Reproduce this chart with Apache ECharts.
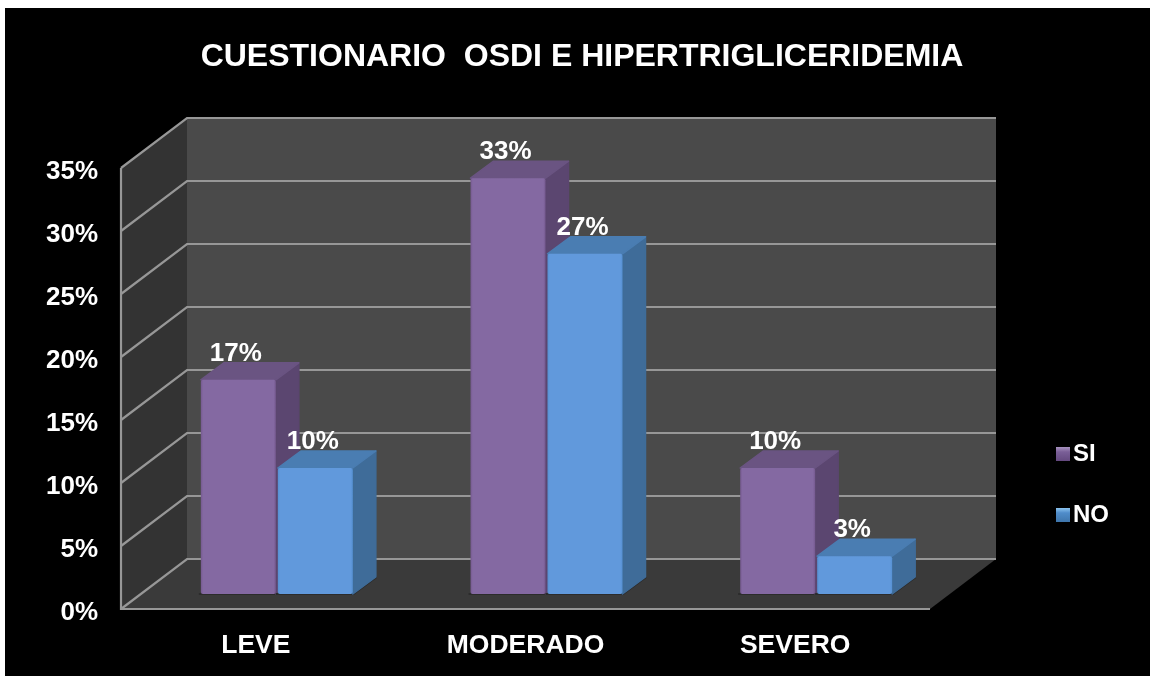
<!DOCTYPE html>
<html><head><meta charset="utf-8">
<style>
html,body{margin:0;padding:0;background:#fff;width:1150px;height:676px;overflow:hidden}
#bg{position:absolute;left:5px;top:8px;right:0;bottom:0;background:#000}
#c{position:absolute;left:0;top:0;width:1150px;height:676px;filter:blur(0.45px)}
</style>
<script src="https://cdn.jsdelivr.net/npm/echarts@6/dist/echarts.min.js"></script>
</head><body><div id="bg"></div><div id="c"></div>
<script>
const categories = ['LEVE', 'MODERADO', 'SEVERO'];
const seriesSI = [17, 33, 10];
const seriesNO = [10, 27, 3];
const yTicks = [0, 5, 10, 15, 20, 25, 30, 35];
const titleText = 'CUESTIONARIO  OSDI E HIPERTRIGLICERIDEMIA';

const FONT = '"Liberation Sans", Arial, sans-serif';
const WALL = {dx: 66, dy: -50};      // depth of the chart box
const PLANE = {dx: 21, dy: -15};     // plane of the bars' front faces
const BAR = {dx: 23, dy: -17, w: 75, gap: 1};

const chart = echarts.init(document.getElementById('c'), null, {renderer: 'canvas'});

function poly(points, fill, z2) {
  return {type: 'polygon', z2: z2 || 0, shape: {points}, style: {fill}};
}
function softPoly(points, fill, z2) {
  return {type: 'polygon', z2: z2 || 0, shape: {points},
          style: {fill, stroke: fill, lineWidth: 1.5, lineJoin: 'round'}};
}
function line(points, z2) {
  return {type: 'polyline', z2: z2 || 1, shape: {points},
          style: {fill: 'none', stroke: '#979797', lineWidth: 2.2}};
}

// Box: side wall, back wall, floor
function renderBox(params, api) {
  const lastCat = categories.length - 1;
  const bl = api.coord([0, 0]), tl = api.coord([0, yTicks[yTicks.length - 1]]);
  const half = api.size([1, 0])[0] / 2;
  const x0 = bl[0] - half, x1 = api.coord([lastCat, 0])[0] + half;
  const y0 = bl[1], y1 = tl[1], d = WALL;
  return {type: 'group', children: [
    poly([[x0, y0], [x0 + d.dx, y0 + d.dy], [x0 + d.dx, y1 + d.dy], [x0, y1]], '#333333'),
    poly([[x0 + d.dx, y0 + d.dy], [x1 + d.dx, y0 + d.dy], [x1 + d.dx, y1 + d.dy], [x0 + d.dx, y1 + d.dy]], '#4a4a4a'),
    poly([[x0, y0], [x1, y0], [x1 + d.dx, y0 + d.dy], [x0 + d.dx, y0 + d.dy]], '#3a3a3a')
  ]};
}

// One grid line per tick: along the side wall, then along the back wall
function renderGridLine(params, api) {
  const lastCat = categories.length - 1;
  const p = api.coord([0, api.value(0)]);
  const half = api.size([1, 0])[0] / 2;
  const x0 = p[0] - half, x1 = api.coord([lastCat, 0])[0] + half, y = p[1], d = WALL;
  return line([[x0, y], [x0 + d.dx, y + d.dy], [x1 + d.dx, y + d.dy]]);
}

// Front frame: left vertical and floor front edge
function renderFrame(params, api) {
  const lastCat = categories.length - 1;
  const bl = api.coord([0, 0]), tl = api.coord([0, yTicks[yTicks.length - 1]]);
  const half = api.size([1, 0])[0] / 2;
  const x0 = bl[0] - half, x1 = api.coord([lastCat, 0])[0] + half;
  return line([[x0, tl[1]], [x0, bl[1]], [x1, bl[1]]], 2);
}

function barRenderer(colors, side) {
  return function (params, api) {
    const cat = api.value(0), v = api.value(1);
    const base = api.coord([cat, 0]), top = api.coord([cat, v]);
    const cx = base[0] + PLANE.dx;
    const x0 = side < 0 ? cx - BAR.gap - BAR.w : cx + BAR.gap;
    const x1 = x0 + BAR.w;
    const yb = base[1] + PLANE.dy, yt = top[1] + PLANE.dy;
    const dx = BAR.dx, dy = BAR.dy;
    const frontFill = new echarts.graphic.LinearGradient(0, 0, 1, 0, [
      {offset: 0, color: colors.frontEdge},
      {offset: 0.03, color: colors.front},
      {offset: 0.97, color: colors.front},
      {offset: 1, color: colors.frontEdge}
    ]);
    return {type: 'group', children: [
      // soft contact shadow on the floor
      poly([[x0 - 2, yb + 1], [x1 + 1, yb + 1], [x1 + dx + 1, yb + dy + 1], [x1 + dx, yb + dy - 2], [x1, yb - 1], [x0 - 2, yb - 1]], '#2c2c2c', 0),
      softPoly([[x1, yt], [x1 + dx, yt + dy], [x1 + dx, yb + dy], [x1, yb]], colors.side, 1),
      softPoly([[x0, yt], [x0 + dx, yt + dy], [x1 + dx, yt + dy], [x1, yt]], colors.top, 1),
      {type: 'rect', z2: 2, shape: {x: x0, y: yt, width: BAR.w, height: yb - yt, r: 2}, style: {fill: frontFill}}
    ]};
  };
}

function labelRenderer(side) {
  return function (params, api) {
    const cat = api.value(0), v = api.value(1);
    const top = api.coord([cat, v]);
    const cx = top[0] + PLANE.dx + side * (BAR.w / 2 + BAR.gap) - 2.5;
    return {type: 'text', style: {
      x: cx, y: top[1] + PLANE.dy - 26, text: v + '%', fill: '#fff',
      font: 'bold 26px ' + FONT, align: 'center', verticalAlign: 'middle'
    }};
  };
}

const axisEnc = {x: 0, y: 1};
const data2 = arr => arr.map((v, i) => [i, v]);
const siColors = {front: '#8469a2', frontEdge: '#75598f', side: '#5b4670', top: '#6a5482'};
const noColors = {front: '#6199dc', frontEdge: '#5590d2', side: '#3f6c99', top: '#4a7db2'};
const iconFill = (a, b, c) => new echarts.graphic.LinearGradient(0, 0, 0, 1, [
  {offset: 0, color: a}, {offset: 0.35, color: b}, {offset: 1, color: c}
]);

chart.setOption({
  animation: false,
  backgroundColor: 'transparent',
  title: {
    text: titleText, left: 577, top: 36, textAlign: 'center',
    textStyle: {color: '#fff', fontFamily: FONT, fontWeight: 'bold', fontSize: 32}
  },
  legend: {
    data: ['SI', 'NO'], orient: 'vertical', left: 1051, top: 437, itemWidth: 14, itemHeight: 14,
    itemGap: 37, icon: 'rect',
    textStyle: {color: '#fff', fontFamily: FONT, fontWeight: 'bold', fontSize: 24, padding: [2, 0, 0, -2]}
  },
  grid: {left: 121, right: 220, top: 168, bottom: 67},
  xAxis: {
    type: 'category', data: categories,
    axisLine: {show: false}, axisTick: {show: false}, splitLine: {show: false},
    axisLabel: {color: '#fff', fontFamily: FONT, fontWeight: 'bold', fontSize: 26.5, margin: 23}
  },
  yAxis: {
    type: 'value', min: 0, max: 35, interval: 5,
    axisLine: {show: false}, axisTick: {show: false}, splitLine: {show: false},
    axisLabel: {margin: 23, formatter: v => '{t|' + v + '%}',
      rich: {t: {color: '#fff', fontFamily: FONT, fontWeight: 'bold', fontSize: 26, padding: [8, 0, 0, 0]}}}
  },
  tooltip: {show: false},
  series: [
    {type: 'custom', name: 'box', z: 1, silent: true, clip: false, renderItem: renderBox, data: [[0, 0]], encode: axisEnc},
    {type: 'custom', name: 'gridlines', z: 2, silent: true, clip: false, renderItem: renderGridLine,
     data: yTicks.map(t => [t]), encode: {y: 0}},
    {type: 'custom', name: 'frame', z: 3, silent: true, clip: false, renderItem: renderFrame, data: [[0, 0]], encode: axisEnc},
    {type: 'custom', name: 'SI', z: 4, clip: false, renderItem: barRenderer(siColors, -1), data: data2(seriesSI), encode: axisEnc,
     itemStyle: {color: iconFill('#a893c0', '#7a5f97', '#64497f')}},
    {type: 'custom', name: 'NO', z: 5, clip: false, renderItem: barRenderer(noColors, 1), data: data2(seriesNO), encode: axisEnc,
     itemStyle: {color: iconFill('#8cc4f0', '#4f8cca', '#3f76ac')}},
    {type: 'custom', name: 'labelsSI', z: 6, clip: false, renderItem: labelRenderer(-1), data: data2(seriesSI), encode: axisEnc},
    {type: 'custom', name: 'labelsNO', z: 6, clip: false, renderItem: labelRenderer(1), data: data2(seriesNO), encode: axisEnc}
  ]
});
</script></body></html>
